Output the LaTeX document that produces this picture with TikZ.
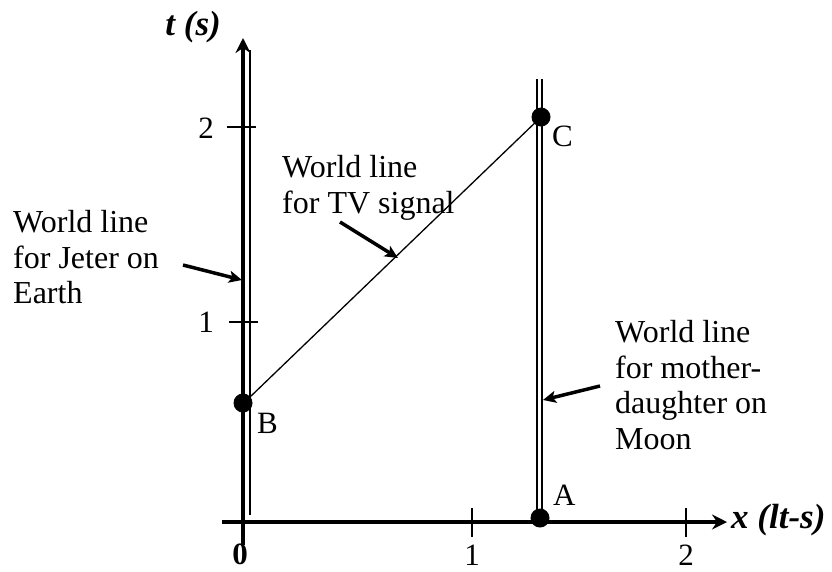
\documentclass[tikz,border=0pt]{standalone}
\usepackage{fontspec}
\setmainfont{Liberation Serif}
\usetikzlibrary{arrows.meta}
\begin{document}
\begin{tikzpicture}[x=1pt,y=-1pt,
  lbl/.style={font=\fontsize{32}{35.5}\selectfont, inner sep=0pt, align=left, anchor=north west},
  axlbl/.style={font=\fontsize{35}{40}\selectfont\bfseries\itshape, inner sep=0pt},
  num/.style={font=\fontsize{31}{35}\selectfont, inner sep=0pt},
  dot/.style={circle, fill=black, minimum size=19pt, inner sep=0pt},
  pointer/.style={line width=3.5pt, -{Stealth[length=13pt,width=12pt,inset=3pt]}},
  axis/.style={-{Stealth[length=15pt,width=15pt,inset=5pt]}},
  thin/.style={line width=1.5pt}]
\useasboundingbox (0,0) rectangle (832,571);

% coordinates
\coordinate (tbot) at (243,545);
\coordinate (ttop) at (243,38);
\coordinate (ebot) at (250,515);
\coordinate (etop) at (250,50);
\coordinate (xl) at (222,522);
\coordinate (xr) at (727,522);
\coordinate (m1b) at (537,522);
\coordinate (m1t) at (537,79);
\coordinate (m2b) at (542,522);
\coordinate (m2t) at (542,79);
\coordinate (t2a) at (227,127);
\coordinate (t2b) at (256,127);
\coordinate (t1a) at (229,322);
\coordinate (t1b) at (258,322);
\coordinate (x1a) at (472,508);
\coordinate (x1b) at (472,537);
\coordinate (x2a) at (686,508);
\coordinate (x2b) at (686,537);
\coordinate (Bs) at (250,397);

% world lines and axes
\draw[line width=4.5pt, axis] (tbot) -- (ttop);
\draw[thin] (ebot) -- (etop);
\draw[line width=3.5pt, axis] (xl) -- (xr);
\draw[thin] (m1b) -- (m1t);
\draw[thin] (m2b) -- (m2t);

% ticks
\draw[thin] (t2a) -- (t2b);
\draw[thin] (t1a) -- (t1b);
\draw[thin] (x1a) -- (x1b);
\draw[thin] (x2a) -- (x2b);

% events
\node[dot] (A) at (540,518) {};
\node[dot] (C) at (541,117) {};
\node[dot] (B) at (243,403) {};
\draw[line width=1.3pt] (Bs) -- (C.center);

% event labels
\node[num, anchor=base west] (lA) at (553,505) {A};
\node[num, anchor=base west] (lC) at (552,146) {C};
\node[num, anchor=base west] (lB) at (257,433) {B};

% axis numbers
\node[num, anchor=base, font=\fontsize{31}{35}\selectfont\bfseries] (n0) at (240,564) {0};
\node[num, anchor=base] (nx1) at (472,565) {1};
\node[num, anchor=base] (nx2) at (686,565) {2};
\node[num, anchor=base east] (nt2) at (214,138.5) {2};
\node[num, anchor=base east] (nt1) at (214,332.5) {1};

% axis labels
\node[axlbl, anchor=base east] (tlab) at (221,35) {t (s)};
\node[axlbl, anchor=base west] (xlab) at (731,528) {x (lt-s)};

% annotations
\node[lbl] (jeter) at (13,210.5) {World line\\for Jeter on\\Earth};
\node[lbl] (tv) at (282,155.5) {World line\\for TV signal};
\node[lbl] (moon) at (615,320.5) {World line\\for mother-\\daughter on\\Moon};

\coordinate (pj1) at (183,265);
\coordinate (pj2) at (242,280);
\coordinate (pt1) at (340,222);
\coordinate (pt2) at (398,258);
\coordinate (pm1) at (600,386);
\coordinate (pm2) at (543,400);
\draw[pointer] (pj1) -- (pj2);
\draw[pointer] (pt1) -- (pt2);
\draw[pointer] (pm1) -- (pm2);
\end{tikzpicture}
\end{document}
